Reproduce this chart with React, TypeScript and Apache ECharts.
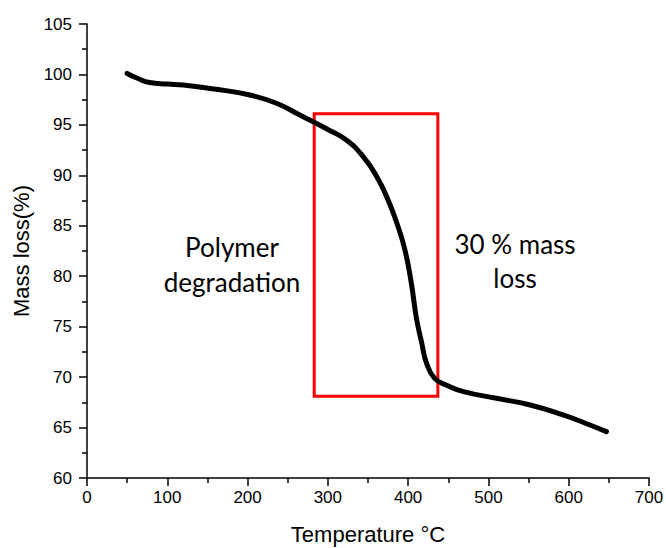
import React, { useEffect, useRef } from "react";
import * as echarts from "echarts";

const temperatures = [50, 62, 78, 100, 120, 161, 203, 236, 265, 300, 323, 344, 361, 375, 386, 396, 404, 410, 417, 423, 433, 448, 469, 510, 552, 593, 620, 647];
const massLoss = [100.1, 99.65, 99.2, 99.05, 98.95, 98.53, 97.96, 97.14, 95.98, 94.55, 93.5, 91.85, 89.87, 87.56, 85.25, 82.6, 79.3, 76.0, 73.35, 71.37, 69.88, 69.2, 68.56, 67.9, 67.24, 66.25, 65.45, 64.6];

const boxX = [283, 437];
const boxY = [68.1, 96.1];

const xTicks = { min: 0, max: 700, interval: 100 };
const yTicks = { min: 60, max: 105, interval: 5 };

const leftNote = ["Polymer", "degradation"];
const rightNote = ["30 % mass", "loss"];

export default function App() {
  const ref = useRef<HTMLDivElement>(null);
  useEffect(() => {
    if (!ref.current) return;
    const chart = echarts.init(ref.current, null, { renderer: "svg" });
    const font = "Liberation Sans, Arial, sans-serif";
    const noteFont = "Lato, 'Open Sans', sans-serif";
    const axisCommon = {
      axisLine: { show: true, lineStyle: { color: "#000", width: 1.5 } },
      axisTick: { show: true, inside: false, length: 8, lineStyle: { color: "#000", width: 1.5 } },
      minorTick: { show: true, splitNumber: 2, length: 5, lineStyle: { color: "#000", width: 1.5 } },
      splitLine: { show: false },
      axisLabel: { color: "#000", fontFamily: font, fontSize: 17 },
      nameTextStyle: { color: "#000", fontFamily: font, fontSize: 22 },
    };
    const noteText = (text: string, x: number, y: number) => ({
      type: "text",
      x,
      y,
      style: {
        text,
        align: "center",
        verticalAlign: "middle",
        fontSize: 26,
        fontFamily: noteFont,
        fill: "#000",
      },
    });
    chart.setOption({
      animation: false,
      grid: { left: 87, right: 17, top: 24, bottom: 70, containLabel: false, outerBoundsMode: "none" },
      xAxis: {
        type: "value",
        ...xTicks,
        ...axisCommon,
        axisLabel: { ...axisCommon.axisLabel, margin: 11 },
        name: "Temperature °C",
        nameLocation: "middle",
        nameGap: 45,
      },
      yAxis: {
        type: "value",
        ...yTicks,
        ...axisCommon,
        axisLabel: { ...axisCommon.axisLabel, margin: 15 },
        name: "Mass loss(%)",
        nameLocation: "middle",
        nameGap: 55,
      },
      series: [
        {
          type: "line",
          data: temperatures.map((t, i) => [t, massLoss[i]]),
          smooth: 0.5,
          showSymbol: false,
          lineStyle: { color: "#000", width: 5, cap: "round", join: "round" },
          markArea: {
            silent: true,
            itemStyle: { color: "rgba(0,0,0,0)", borderColor: "#ff0000", borderWidth: 3 },
            data: [[{ coord: [boxX[0], boxY[1]] }, { coord: [boxX[1], boxY[0]] }]],
          },
        },
      ],
      graphic: [
        noteText(leftNote[0], 232, 247),
        noteText(leftNote[1], 232, 282),
        noteText(rightNote[0], 515, 244),
        noteText(rightNote[1], 515, 278),
      ],
    });
    return () => chart.dispose();
  }, []);
  return <div ref={ref} style={{ width: 666, height: 548, position: "absolute", left: 0, top: 0 }} />;
}
